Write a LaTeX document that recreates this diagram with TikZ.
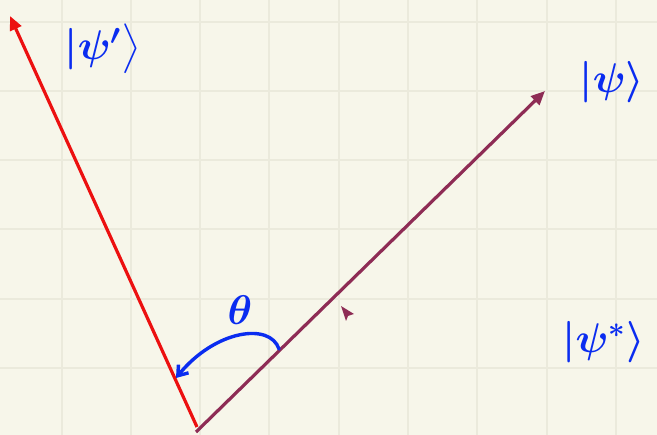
\documentclass[tikz,border=0pt]{standalone}
\usepackage{xcolor}
\usepackage{amsmath,amssymb}
\usepackage{tikz}
\usetikzlibrary{arrows.meta,positioning,calc}
\definecolor{PPaper}{HTML}{F7F6EA}
\definecolor{PGrid}{HTML}{EBEADC}
\definecolor{PRed}{HTML}{EC1010}
\definecolor{PWine}{HTML}{8E2C55}
\definecolor{PInk}{HTML}{0A2CF0}
\begin{document}
\begin{tikzpicture}[
  x=1pt,y=-1pt,
  every node/.style={font=\huge\boldmath,text=PInk,scale=2,inner sep=0pt},
  gridline/.style={PGrid,line width=1.6pt},
  vecred/.style={-{Triangle[length=14pt,width=12pt]},PRed,line width=3.2pt},
  vecwine/.style={-{Triangle[length=14pt,width=12pt]},PWine,line width=3.2pt},
  anglearr/.style={-{Straight Barb[length=9pt,width=13pt]},PInk,line width=3.4pt,line cap=round}
]
\fill[PPaper] (0,0) rectangle (657,435);
\useasboundingbox (0,0) rectangle (657,435);
\foreach \gx in {62,131,200,269,339,408,477,547,616} \draw[gridline] (\gx,0)--(\gx,435);
\foreach \gy in {22,91,160,229,299,368} \draw[gridline] (0,\gy)--(657,\gy);
\coordinate (origin) at (196,432);
\coordinate (redend) at (197,427);
\coordinate (psiptip) at (10,16);
\coordinate (psitip) at (545,91);
\coordinate (arcstart) at (279,349);
\coordinate (arcend) at (176,378);
\draw[vecred] (redend)--(psiptip);
\draw[vecwine] (origin)--(psitip);
\fill[PWine] (341,306)--(354,314)--(348,316)--(346,321)--cycle;
\draw[anglearr] (arcstart) .. controls (270,322) and (215,330) .. (arcend);
\node (theta) at (240,310) {$\theta$};
\node (psiprime) at (103,49) {$|\psi'\big\rangle$};
\node (psi) at (612,82) {$|\psi\rangle$};
\node[anchor=west] (psistar) at (562,342) {$|\psi^{*}\rangle$};
\end{tikzpicture}
\end{document}
